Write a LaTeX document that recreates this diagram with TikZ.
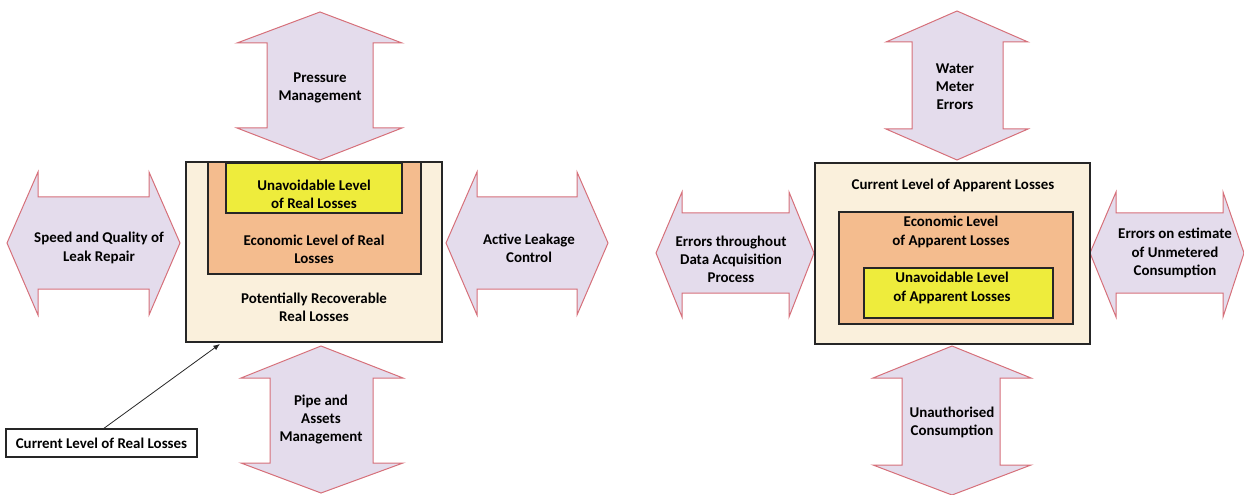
\documentclass[tikz,border=0pt]{standalone}
\usepackage{fontspec}
\setmainfont{Carlito}
\usetikzlibrary{arrows.meta,fit}
\definecolor{arrfill}{RGB}{228,220,236}
\definecolor{arrline}{RGB}{214,112,122}
\definecolor{cream}{RGB}{250,240,220}
\definecolor{orangebox}{RGB}{244,188,142}
\definecolor{yellowbox}{RGB}{238,236,60}
\tikzset{
  dblarrow/.style={draw=arrline, fill=arrfill, line width=0.75pt, line join=miter},
  lbl/.style={align=center, font=\fontsize{11.2}{13.6}\selectfont\bfseries, text=black, inner sep=0pt},
  boxframe/.style={draw=black!85, line width=1.1pt, inner sep=0pt},
  callout/.style={draw=black!85, line width=0.8pt, fill=white, inner sep=0pt, minimum width=143.25pt, minimum height=21pt},
  leader/.style={draw=black!85, line width=0.6pt, -{Latex[length=5pt,width=4pt]}}
}
\begin{document}
\begin{tikzpicture}[x=0.75pt,y=-0.75pt]
\useasboundingbox (0,0) rectangle (1244,495);
% ===== Left diagram arrows =====
\draw[dblarrow] (7,243)--(38,172)--(38,197)--(149,197)--(149,172)--(180,243)--(149,315)--(149,289)--(38,289)--(38,315)--cycle;
\node[lbl] (speed) at (99,248) {Speed and Quality of\\Leak Repair};
\draw[dblarrow] (446,243)--(477,172)--(477,197)--(577,197)--(577,172)--(608,243)--(577,315)--(577,289)--(477,289)--(477,315)--cycle;
\node[lbl] (alc) at (529,248) {Active Leakage\\Control};
\draw[dblarrow] (320,12)--(402,43)--(373,43)--(373,128)--(402,128)--(320,160)--(237,128)--(267,128)--(267,43)--(237,43)--cycle;
\node[lbl] (pm) at (320,88) {Pressure\\Management};
\draw[dblarrow] (321,346)--(403,378)--(373,378)--(373,463)--(403,463)--(321,493)--(241,463)--(270,463)--(270,378)--(241,378)--cycle;
\node[lbl] (pam) at (321,419.5) {Pipe and\\Assets\\Management};
% ===== Left diagram boxes =====
\node[boxframe, fill=cream, fit={(186,162) (442,342)}] (outerL) {};
\node[boxframe, fill=orangebox, fit={(208,162) (421,274)}] (econL) {};
\node[boxframe, fill=yellowbox, fit={(226,163) (402,213)}] (unavL) {};
\node[lbl] (unavLt) at (314,194.5) {Unavoidable Level\\of Real Losses};
\node[lbl] (econLt) at (314,249.5) {Economic Level of Real\\Losses};
\node[lbl] (potL) at (314,307.5) {Potentially Recoverable\\Real Losses};
% callout
\node[callout] (cl) at (101.5,443) {};
\node[lbl] (clt) at (101.5,443.5) {Current Level of Real Losses};
\coordinate (tipL) at (220,344);
\draw[leader] (103,429) -- (tipL);
% ===== Right diagram arrows =====
\draw[dblarrow] (656,253)--(682,192)--(682,213)--(789,213)--(789,192)--(814,253)--(789,317)--(789,293)--(682,293)--(682,317)--cycle;
\node[lbl] (errdata) at (731,259.5) {Errors throughout\\Data Acquisition\\Process};
\draw[dblarrow] (1090,253)--(1116,192)--(1116,213)--(1223,213)--(1223,192)--(1244,253)--(1223,317)--(1223,293)--(1116,293)--(1116,317)--cycle;
\node[lbl] (errest) at (1175,253) {Errors on estimate\\of Unmetered\\Consumption};
\draw[dblarrow] (957,11)--(1028,42)--(1003,42)--(1003,129)--(1028,129)--(957,160)--(886,129)--(912,129)--(912,42)--(886,42)--cycle;
\node[lbl] (wme) at (955,86.5) {Water\\Meter\\Errors};
\draw[dblarrow] (952,346)--(1031,378)--(1000,378)--(1000,465)--(1031,465)--(952,495)--(873,465)--(902,465)--(902,378)--(873,378)--cycle;
\node[lbl] (uc) at (952,422.5) {Unauthorised\\Consumption};
% ===== Right diagram boxes =====
\node[boxframe, fill=cream, fit={(815,163) (1090,344)}] (outerR) {};
\node[boxframe, fill=orangebox, fit={(839,212) (1073,324)}] (econR) {};
\node[boxframe, fill=yellowbox, fit={(864,268) (1053,318)}] (unavR) {};
\node[lbl] (curR) at (953,185) {Current Level of Apparent Losses};
\node[lbl] (econRt) at (951,232) {Economic Level\\of Apparent Losses};
\node[lbl] (unavRt) at (952,288) {Unavoidable Level\\of Apparent Losses};
\end{tikzpicture}
\end{document}
